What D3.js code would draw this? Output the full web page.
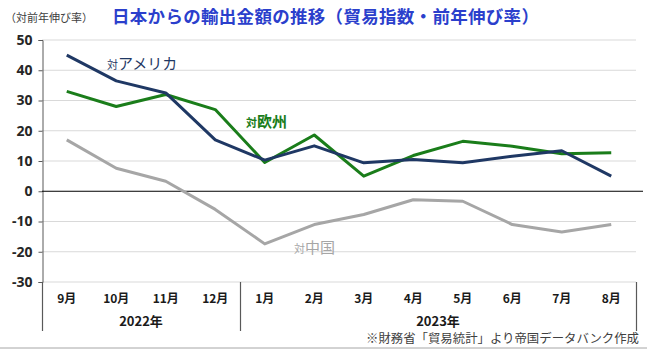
<!DOCTYPE html>
<html>
<head>
<meta charset="utf-8">
<script src="https://cdn.jsdelivr.net/npm/d3@7"></script>
<style>
  body { margin: 0; background: #fff; }
  svg { font-family: "Noto Sans CJK JP", "Noto Sans", sans-serif; }
</style>
</head>
<body>
<script>
'use strict';

// chart data
const months = ["9月", "10月", "11月", "12月", "1月", "2月", "3月", "4月", "5月", "6月", "7月", "8月"];
const years = [
  { label: "2022年", from: 0, to: 4 },
  { label: "2023年", from: 4, to: 12 }
];
const usa = [45, 36.5, 32.5, 17, 10.3, 15, 9.4, 10.5, 9.4, 11.6, 13.4, 5];
const europe = [33, 28, 32, 27, 9.5, 18.6, 5, 11.8, 16.5, 14.9, 12.4, 12.7];
const china = [17, 7.6, 3.3, -6, -17.4, -11, -7.7, -2.8, -3.3, -11, -13.5, -11];
const yTicks = [50, 40, 30, 20, 10, 0, -10, -20, -30];

const width = 647, height = 349;
const svg = d3.select("body").append("svg")
  .attr("width", width)
  .attr("height", height);

// scales
const x = d3.scaleBand().domain(months).range([42, 636]);
const y = d3.scaleLinear().domain([-30, 50]).range([282, 40]);
const cx = d => x(d) + x.bandwidth() / 2;

// titles
svg.append("text")
  .attr("x", 5).attr("y", 22)
  .style("font-size", "11px")
  .style("fill", "#404040")
  .text("（対前年伸び率）");

svg.append("text")
  .attr("x", 112).attr("y", 23)
  .style("font-size", "17.5px")
  .style("letter-spacing", "0.3px")
  .style("font-weight", "bold")
  .style("fill", "#2b3fcc")
  .text("日本からの輸出金額の推移（貿易指数・前年伸び率）");

// gridlines
svg.append("g")
  .selectAll("line")
  .data(yTicks.filter(t => t !== 0))
  .enter().append("line")
  .attr("x1", 42).attr("x2", 636)
  .attr("y1", d => y(d)).attr("y2", d => y(d))
  .style("stroke", "#d9d9d9")
  .style("stroke-width", 1);

// y axis
const yAxis = d3.axisLeft(y)
  .tickValues(yTicks)
  .tickFormat(d => String(d))
  .tickSize(4)
  .tickPadding(6);
const yg = svg.append("g")
  .attr("transform", "translate(42.5, 0)")
  .call(yAxis);
yg.select(".domain").attr("stroke", "#595959");
yg.selectAll(".tick line").attr("stroke", "#595959");
yg.selectAll(".tick text")
  .style("font-family", "'Noto Sans', sans-serif")
  .style("font-size", "14px")
  .style("font-weight", "bold")
  .style("fill", "#262626");

// zero line
svg.append("line")
  .attr("x1", 42).attr("x2", 643)
  .attr("y1", y(0)).attr("y2", y(0))
  .style("stroke", "#000")
  .style("stroke-width", 1);

// month labels
svg.append("g")
  .selectAll("text")
  .data(months)
  .enter().append("text")
  .attr("x", d => cx(d))
  .attr("y", 303)
  .attr("text-anchor", "middle")
  .style("font-size", "12px")
  .style("font-weight", "bold")
  .style("fill", "#1a1a1a")
  .text(d => d);

// year group separators and labels
const seps = [0, 4, 12];
svg.append("g")
  .selectAll("line")
  .data(seps)
  .enter().append("line")
  .attr("x1", d => Math.round(x.range()[0] + d * x.step()) + 0.5)
  .attr("x2", d => Math.round(x.range()[0] + d * x.step()) + 0.5)
  .attr("y1", 282).attr("y2", 331)
  .style("stroke", "#595959")
  .style("stroke-width", 1.2);

svg.append("g")
  .selectAll("text")
  .data(years)
  .enter().append("text")
  .attr("x", d => x.range()[0] + (d.from + d.to) / 2 * x.step())
  .attr("y", 326)
  .attr("text-anchor", "middle")
  .style("font-size", "13px")
  .style("font-weight", "bold")
  .style("fill", "#1a1a1a")
  .text(d => d.label);

// lines
const line = d3.line()
  .x((d, i) => cx(months[i]))
  .y(d => y(d));

const series = [
  { values: china, color: "#a6a6a6" },
  { values: europe, color: "#1a7d1a" },
  { values: usa, color: "#1f3864" }
];
svg.append("g")
  .selectAll("path")
  .data(series)
  .enter().append("path")
  .attr("d", d => line(d.values))
  .style("fill", "none")
  .style("stroke", d => d.color)
  .style("stroke-width", 3)
  .style("stroke-linejoin", "round");

// series labels
function seriesLabel(xPos, yPos, name, color, weight) {
  const t = svg.append("text")
    .attr("x", xPos).attr("y", yPos)
    .style("fill", color)
    .style("font-weight", weight);
  t.append("tspan").style("font-size", "11px").text("対");
  t.append("tspan").style("font-size", "15px").text(name);
}
seriesLabel(107, 69, "アメリカ", "#1f3864", "normal");
seriesLabel(246, 127, "欧州", "#1a7d1a", "bold");
seriesLabel(294, 253, "中国", "#a6a6a6", "normal");

// footnote
svg.append("text")
  .attr("x", 639).attr("y", 343)
  .attr("text-anchor", "end")
  .style("font-size", "12.4px")
  .style("fill", "#404040")
  .text("※財務省「貿易統計」より帝国データバンク作成");

// bottom rule
svg.append("line")
  .attr("x1", 0).attr("x2", width)
  .attr("y1", 348).attr("y2", 348)
  .style("stroke", "#a6a6a6")
  .style("stroke-width", 1);
</script>
</body>
</html>
